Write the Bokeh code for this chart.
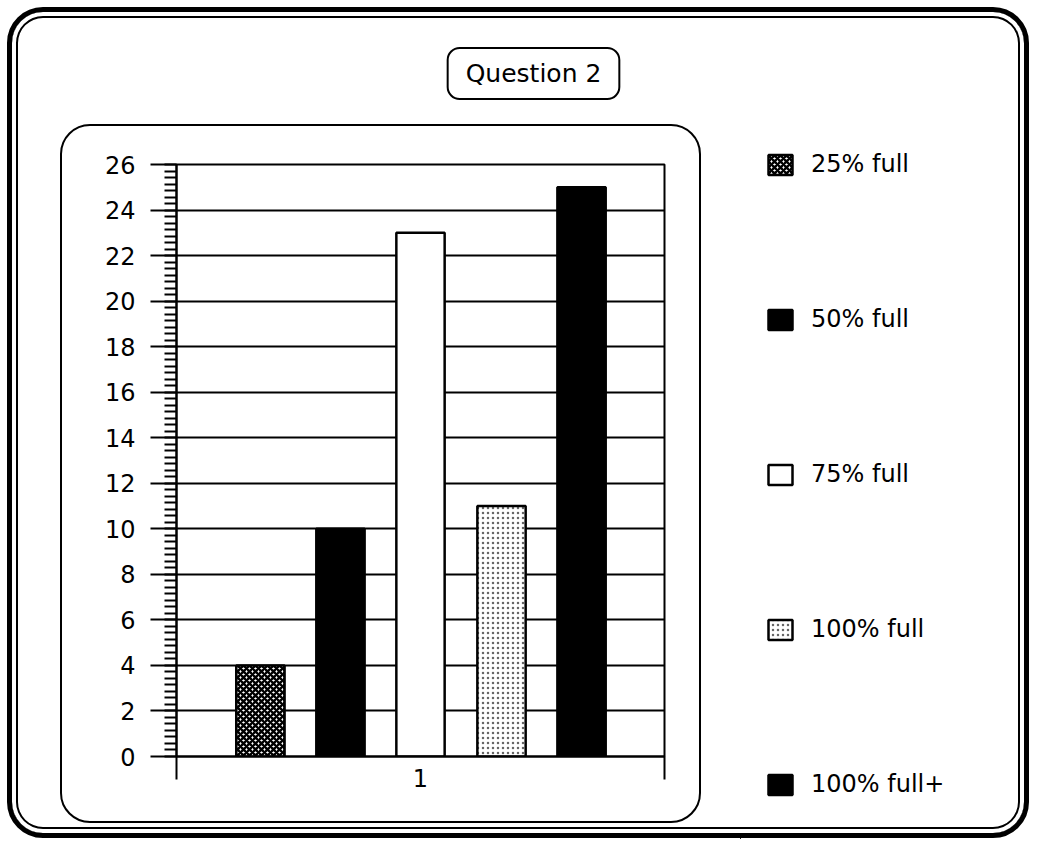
from bokeh.plotting import figure
from bokeh.layouts import row, column
from bokeh.models import (Legend, LegendItem, FixedTicker, SingleIntervalTicker, Range1d,
                          ColumnDataSource, InlineStyleSheet, Label)
from bokeh.transform import dodge
from bokeh.embed import file_html
from bokeh.resources import INLINE

# ---------------- data ----------------
chart_title = "Question 2"
categories = ["1"]
series_names = ["25% full", "50% full", "75% full", "100% full", "100% full+"]
values_25 = [4]
values_50 = [10]
values_75 = [23]
values_100 = [11]
values_100_plus = [25]
y_max = 26
y_step = 2

FONT = "DejaVu Sans"

xs = [i + 1 for i in range(len(categories))]
source = ColumnDataSource(data=dict(
    x=xs, cat=categories,
    v25=values_25, v50=values_50, v75=values_75, v100=values_100, v100p=values_100_plus,
))

styles = [
    dict(col="v25", off=-0.328, fill_color="white", hatch_pattern="diagonal_cross",
         hatch_color="black", hatch_scale=6, hatch_weight=2.4),
    dict(col="v50", off=-0.164, fill_color="black"),
    dict(col="v75", off=0.0, fill_color="white"),
    dict(col="v100", off=0.166, fill_color="white", hatch_pattern="dot",
         hatch_color="black", hatch_scale=5, hatch_weight=1.3, hatch_alpha=0.6),
    dict(col="v100p", off=0.330, fill_color="black"),
]

TOP_H = 110          # height of the title strip
TOTAL_W, TOTAL_H = 1030, 839
MAIN_W = 740
ROW_H = TOTAL_H - TOP_H
FRAME_L, FRAME_R = 176, 664

# ---------------- title strip ----------------
pt = figure(width=MAIN_W, height=TOP_H, output_backend="svg", toolbar_location=None,
            x_axis_location=None, y_axis_location=None, min_border=0,
            x_range=Range1d(0, 1), y_range=Range1d(0, 1))
pt.grid.visible = False
pt.outline_line_color = None
pt.background_fill_color = None
pt.border_fill_color = None
# the strip's frame is aligned with the chart frame below it (starts at FRAME_L)
pt.add_layout(Label(x=533 - FRAME_L, y=TOP_H - 73, x_units="screen", y_units="screen",
                    text=chart_title, text_align="center", text_baseline="middle",
                    text_font=FONT, text_font_size="25px", text_color="black",
                    border_line_color="black", border_line_width=2,
                    background_fill_color="white", padding=(18, 11), border_radius=12))

# ---------------- main chart ----------------
p = figure(width=MAIN_W, height=ROW_H, output_backend="svg", toolbar_location=None,
           x_range=Range1d(0.5, len(categories) + 0.5), y_range=Range1d(0, y_max),
           min_border_left=FRAME_L, min_border_right=MAIN_W - FRAME_R,
           min_border_top=164 - TOP_H, min_border_bottom=ROW_H - (164 - TOP_H) - 592)
p.background_fill_color = "white"
p.border_fill_color = None
p.outline_line_color = "black"
p.outline_line_width = 2

renderers = []
for st in styles:
    kw = {k: v for k, v in st.items() if k not in ("col", "off")}
    r = p.vbar(x=dodge("x", st["off"], range=p.x_range), top=st["col"], bottom=0,
               width=0.099, source=source, line_color="black", line_width=2.5, **kw)
    renderers.append(r)

p.xgrid.visible = False
p.ygrid.ticker = SingleIntervalTicker(interval=y_step)
p.ygrid.grid_line_color = "black"
p.ygrid.grid_line_width = 2

yax = p.yaxis[0]
yax.ticker = SingleIntervalTicker(interval=y_step, num_minor_ticks=7)
yax.axis_line_color = "black"
yax.axis_line_width = 2
yax.major_tick_out = 26
yax.major_tick_in = 0
yax.major_tick_line_width = 2
yax.minor_tick_out = 12
yax.minor_tick_in = 0
yax.minor_tick_line_width = 2
yax.major_label_standoff = 15
yax.major_label_text_font = FONT
yax.major_label_text_font_size = "24px"
yax.major_label_text_color = "black"

xax = p.xaxis[0]
xax.ticker = FixedTicker(ticks=xs, minor_ticks=[0.5 + i for i in range(len(categories) + 1)])
xax.major_label_overrides = {x: c for x, c in zip(xs, categories)}
xax.axis_line_color = "black"
xax.axis_line_width = 2
xax.major_tick_out = 0
xax.major_tick_in = 0
xax.minor_tick_out = 23
xax.minor_tick_in = 0
xax.minor_tick_line_width = 2
xax.major_label_standoff = -11
xax.major_label_text_font = FONT
xax.major_label_text_font_size = "24px"
xax.major_label_text_color = "black"

# ---------------- legend strip (full height) ----------------
pl = figure(width=TOTAL_W - MAIN_W, height=TOTAL_H, output_backend="svg", toolbar_location=None,
            x_axis_location=None, y_axis_location=None, min_border=0,
            x_range=Range1d(100, 101), y_range=Range1d(100, 101))
pl.grid.visible = False
pl.outline_line_color = None
pl.background_fill_color = None
pl.border_fill_color = None
legend_renderers = []
for st in styles:
    kw = {k: v for k, v in st.items() if k not in ("col", "off")}
    r = pl.vbar(x=dodge("x", st["off"], range=p.x_range), top=st["col"], bottom=0,
                width=0.099, source=source, line_color="black", line_width=2.5, **kw)
    legend_renderers.append(r)

legend = Legend(items=[LegendItem(label=n, renderers=[r]) for n, r in zip(series_names, legend_renderers)],
                location=(765 - MAIN_W, TOTAL_H - 798), orientation="vertical",
                padding=0, margin=0, spacing=127, glyph_width=30, glyph_height=25,
                label_height=25, label_standoff=16, label_text_font=FONT,
                label_text_font_size="24px", label_text_color="black",
                border_line_alpha=0, background_fill_alpha=0)
pl.add_layout(legend, "center")

layout = row(column(pt, p, spacing=0), pl, spacing=0)

css = """
:host { position: relative; }
:host::before {
  content: ""; position: absolute; left: 7px; top: 7px; width: 1022px; height: 831px;
  box-sizing: border-box; border: 5px solid black; border-radius: 36px;
  box-shadow: inset 0 0 0 4px white, inset 0 0 0 6px black;
  pointer-events: none; z-index: 10;
}
:host::after {
  content: ""; position: absolute; left: 60px; top: 124px; width: 641px; height: 699px;
  box-sizing: border-box; border: 2px solid black; border-radius: 30px;
  pointer-events: none; z-index: 10;
}
"""
layout.stylesheets = [InlineStyleSheet(css=css)]

open("out.html", "w").write(file_html(layout, INLINE))
